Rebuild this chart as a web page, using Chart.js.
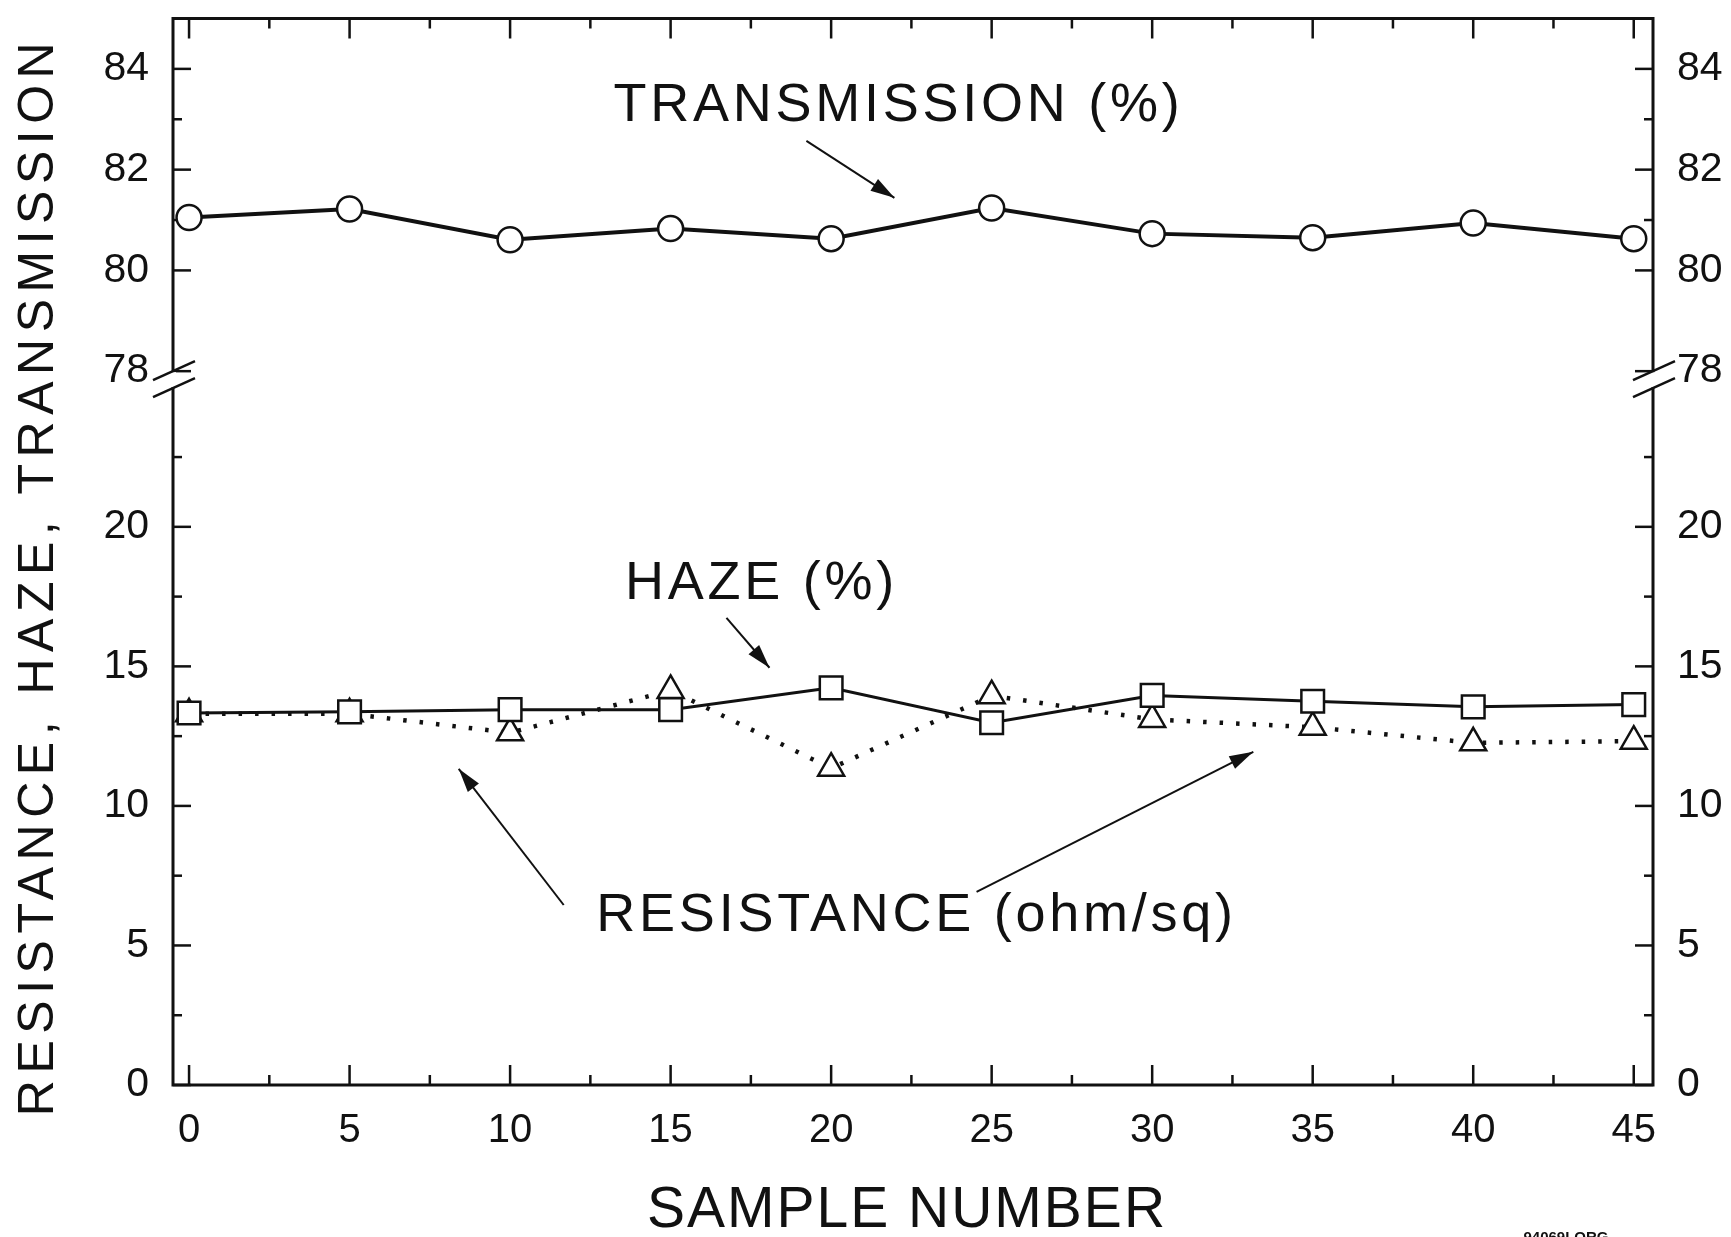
<!DOCTYPE html>
<html>
<head>
<meta charset="utf-8">
<script src="https://cdn.jsdelivr.net/npm/chart.js@4.4.1/dist/chart.umd.min.js"></script>
<style>
  html, body { margin: 0; padding: 0; background: #fff; }
  #wrap { width: 1731px; height: 1237px; }
</style>
</head>
<body>
<div id="wrap"><canvas id="chart" width="1731" height="1237"></canvas></div>
<script>
// values
const samples = [0, 5, 10, 15, 20, 25, 30, 35, 40, 45];
const transmission = [81.05, 81.22, 80.61, 80.83, 80.63, 81.24, 80.73, 80.65, 80.94, 80.63];
const haze = [13.33, 13.37, 13.45, 13.45, 14.23, 12.98, 13.96, 13.75, 13.55, 13.63];
const resistance = [13.3, 13.3, 12.62, 14.14, 11.35, 13.95, 13.1, 12.82, 12.26, 12.32];

// tick labels / tick marks
const xTicks = [0, 5, 10, 15, 20, 25, 30, 35, 40, 45];
const xMinorTicks = [2.5, 7.5, 12.5, 17.5, 22.5, 27.5, 32.5, 37.5, 42.5];
const transTicks = [78, 80, 82, 84];
const transMinorTicks = [81, 83];
const lowTicks = [0, 5, 10, 15, 20];
const lowMinorTicks = [2.5, 7.5, 12.5, 17.5, 22.5];

const FONT = "'Liberation Sans', Arial, Helvetica, sans-serif";
const ink = "#111";

const toPoints = (values) => samples.map((s, i) => ({ x: s, y: values[i] }));

const yAxis = (pos, min, max, ticks, weight, width) => ({
  type: "linear",
  position: pos,
  stack: pos,
  stackWeight: weight,
  min: min,
  max: max,
  grid: { display: false },
  border: { display: false },
  afterBuildTicks: (scale) => {
    scale.ticks = ticks.map((v) => ({ value: v }));
  },
  afterFit: (scale) => {
    scale.width = width;
    scale.paddingTop = 0;
    scale.paddingBottom = 0;
  },
  ticks: {
    color: ink,
    padding: 16,
    font: { family: FONT, size: 41 },
  },
});

const line = (ctx, x1, y1, x2, y2) => {
  ctx.beginPath();
  ctx.moveTo(x1, y1);
  ctx.lineTo(x2, y2);
  ctx.stroke();
};

const arrow = (ctx, x1, y1, x2, y2) => {
  line(ctx, x1, y1, x2, y2);
  const ang = Math.atan2(y2 - y1, x2 - x1);
  const len = 24, half = 7;
  const bx = x2 - len * Math.cos(ang), by = y2 - len * Math.sin(ang);
  ctx.beginPath();
  ctx.moveTo(x2, y2);
  ctx.lineTo(bx + half * Math.sin(ang), by - half * Math.cos(ang));
  ctx.lineTo(bx - half * Math.sin(ang), by + half * Math.cos(ang));
  ctx.closePath();
  ctx.fill();
};

// frame, inward ticks, axis break, titles and the callouts
const decorPlugin = {
  id: "decor",
  beforeDatasetsDraw(chart) {
    const { ctx, chartArea: a, scales } = chart;
    ctx.save();
    ctx.strokeStyle = ink;
    ctx.lineWidth = 3;
    ctx.strokeRect(a.left, a.top, a.right - a.left, a.bottom - a.top);

    ctx.lineWidth = 2.5;
    const xt = (v, len) => {
      const px = scales.x.getPixelForValue(v);
      line(ctx, px, a.bottom, px, a.bottom - len);
      line(ctx, px, a.top, px, a.top + len);
    };
    xTicks.forEach((v) => xt(v, 20));
    xMinorTicks.forEach((v) => xt(v, 10));

    const yt = (scale, v, len) => {
      const py = scale.getPixelForValue(v);
      line(ctx, a.left, py, a.left + len, py);
      line(ctx, a.right, py, a.right - len, py);
    };
    transTicks.forEach((v) => yt(scales.yT, v, 18));
    transMinorTicks.forEach((v) => yt(scales.yT, v, 9));
    lowTicks.forEach((v) => yt(scales.yB, v, 18));
    lowMinorTicks.forEach((v) => yt(scales.yB, v, 9));
    ctx.restore();
  },
  afterDraw(chart) {
    const { ctx, chartArea: a, scales } = chart;
    const X = (v) => scales.x.getPixelForValue(v);
    const T = (v) => scales.yT.getPixelForValue(v);
    const B = (v) => scales.yB.getPixelForValue(v);
    ctx.save();

    // axis break marks
    const s1 = T(78), s2 = s1 + 17;
    [a.left, a.right].forEach((ax) => {
      ctx.fillStyle = "#fff";
      ctx.fillRect(ax - 3, s1 + 1, 6, s2 - s1 - 2);
      ctx.strokeStyle = ink;
      ctx.lineWidth = 2.5;
      [s1, s2].forEach((s) => line(ctx, ax - 20, s + 9, ax + 22, s - 10));
    });

    // axis titles
    ctx.fillStyle = ink;
    ctx.textAlign = "center";
    ctx.textBaseline = "middle";
    ctx.font = "57px " + FONT;
    ctx.letterSpacing = "2px";
    ctx.fillText("SAMPLE NUMBER", (a.left + a.right) / 2 - 6, 1211);

    ctx.translate(39, 576);
    ctx.rotate(-Math.PI / 2);
    ctx.font = "50px " + FONT;
    ctx.letterSpacing = "6.5px";
    ctx.fillText("RESISTANCE, HAZE, TRANSMISSION", 0, 0);
    ctx.setTransform(1, 0, 0, 1, 0, 0);

    // callouts
    ctx.font = "54px " + FONT;
    ctx.letterSpacing = "3.75px";
    ctx.fillText("TRANSMISSION (%)", X(22.1), T(83.26));
    ctx.fillText("HAZE (%)", X(17.83), B(17.96));
    ctx.fillText("RESISTANCE (ohm/sq)", X(22.66), B(6.06));

    ctx.strokeStyle = ink;
    ctx.lineWidth = 2;
    arrow(ctx, X(19.23), T(82.57), X(21.97), T(81.44));
    arrow(ctx, X(16.74), B(16.74), X(18.08), B(14.95));
    arrow(ctx, X(11.67), B(6.45), X(8.4), B(11.33));
    arrow(ctx, X(24.53), B(6.92), X(33.15), B(11.94));

    ctx.letterSpacing = "0px";
    ctx.font = "bold 15px " + FONT;
    ctx.textBaseline = "alphabetic";
    ctx.fillText("94069LORG", 1566, 1242);
    ctx.restore();
  },
};

new Chart(document.getElementById("chart"), {
  type: "line",
  data: {
    datasets: [
      {
        label: "TRANSMISSION (%)",
        data: toPoints(transmission),
        yAxisID: "yT",
        borderColor: ink,
        borderWidth: 4,
        pointStyle: "circle",
        pointRadius: 12.5,
        pointBorderWidth: 2.5,
        pointBorderColor: ink,
        pointBackgroundColor: "#fff",
        clip: false,
      },
      {
        label: "HAZE (%)",
        data: toPoints(haze),
        yAxisID: "yB",
        borderColor: ink,
        borderWidth: 3,
        pointStyle: "rect",
        pointRadius: 16,
        pointBorderWidth: 2.5,
        pointBorderColor: ink,
        pointBackgroundColor: "#fff",
        clip: false,
      },
      {
        label: "RESISTANCE (ohm/sq)",
        data: toPoints(resistance),
        yAxisID: "yB",
        borderColor: ink,
        borderWidth: 4.5,
        borderDash: [3.5, 13],
        pointStyle: "triangle",
        pointRadius: 15,
        pointBorderWidth: 2.5,
        pointBorderColor: ink,
        pointBackgroundColor: "#fff",
        clip: false,
      },
    ],
  },
  options: {
    responsive: false,
    animation: false,
    devicePixelRatio: 1,
    layout: { padding: { top: 15, left: 0, right: 0, bottom: 0 } },
    plugins: { legend: { display: false }, tooltip: { enabled: false } },
    scales: {
      x: {
        type: "linear",
        min: -0.5,
        max: 45.6,
        grid: { display: false },
        border: { display: false },
        afterBuildTicks: (scale) => {
          scale.ticks = xTicks.map((v) => ({ value: v }));
        },
        afterFit: (scale) => {
          scale.height = 152;
        },
        ticks: {
          color: ink,
          padding: 14,
          maxRotation: 0,
          font: { family: FONT, size: 40 },
        },
      },
      yB: yAxis("left", 0, 25, lowTicks, 700, 173),
      yT: yAxis("left", 77.68, 85, transTicks, 370, 173),
      yTR: yAxis("right", 77.68, 85, transTicks, 370, 78),
      yBR: yAxis("right", 0, 25, lowTicks, 700, 78),
    },
  },
  plugins: [decorPlugin],
});
</script>
</body>
</html>
